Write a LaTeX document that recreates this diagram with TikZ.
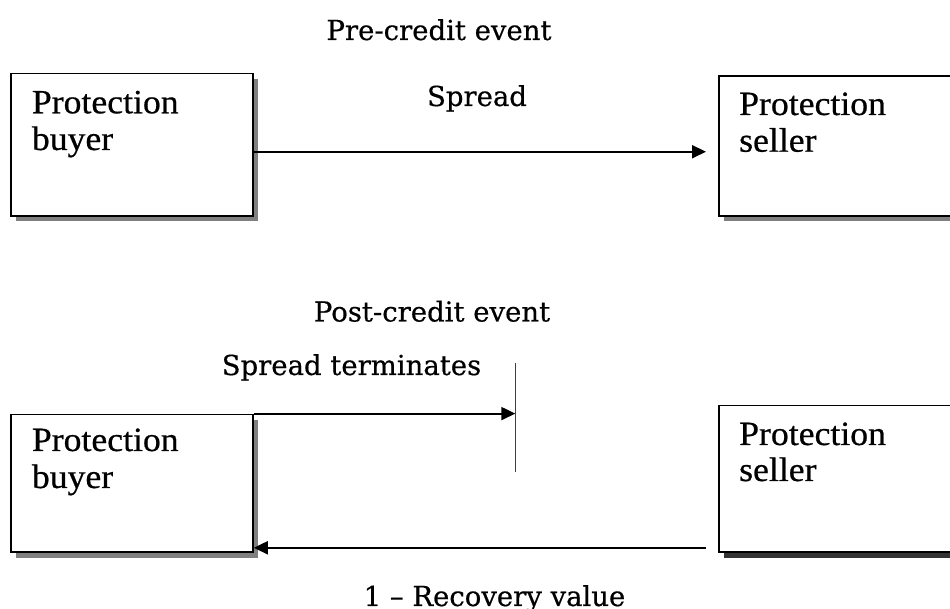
\documentclass[tikz,border=0pt]{standalone}
\usepackage{fontspec}
\setmainfont{Liberation Serif}[FakeBold=0.6, FakeStretch=1.05]
\newfontfamily\labelfont{DejaVu Serif}[FakeBold=0.5]
\usetikzlibrary{arrows.meta,calc,shadows}
\begin{document}
\begin{tikzpicture}[x=1pt,y=1pt,
  box/.style={draw=black, line width=1.8pt, fill=white, inner sep=0pt, anchor=north west,
    drop shadow={shadow xshift=5.5pt, shadow yshift=-5.5pt, fill=black!50, opacity=1}},
  darkbox/.style={box, drop shadow={shadow xshift=5.5pt, shadow yshift=-5.5pt, fill=black!80, opacity=1}},
  boxtext/.style={anchor=base west, inner sep=0pt, font=\fontsize{34}{38}\selectfont},
  lbl/.style={anchor=base, inner sep=0pt, font=\labelfont\fontsize{27.5}{31}\selectfont},
  conn/.style={line width=2pt, -{Triangle[length=14pt,width=13pt]}}]
\useasboundingbox (0,0) rectangle (950,609);
\clip (0,0) rectangle (950,609);
% boxes
\node[box, minimum width=242pt, minimum height=142.3pt] (b1) at (10,536.3) {};
\node[box, minimum width=260pt, minimum height=140pt] (s1) at (718,534) {};
\node[box, minimum width=242pt, minimum height=137.9pt] (b2) at (10,195.4) {};
\node[darkbox, minimum width=260pt, minimum height=146.8pt] (s2) at (718,204.3) {};
% box texts
\node[boxtext] (b1a) at (31.7,495.7) {Protection};
\node[boxtext] (b1b) at (31.7,459) {buyer};
\node[boxtext] (s1a) at (739,494) {Protection};
\node[boxtext] (s1b) at (739,457.3) {seller};
\node[boxtext] (b2a) at (31.7,158) {Protection};
\node[boxtext] (b2b) at (31.7,121) {buyer};
\node[boxtext] (s2a) at (739,164) {Protection};
\node[boxtext] (s2b) at (739,128) {seller};
% labels
\node[lbl] (pre) at (439,569) {Pre-credit event};
\node[lbl] (spr) at (477,503) {Spread};
\node[lbl] (post) at (432,287.5) {Post-credit event};
\node[lbl] (term) at (351.5,234) {Spread terminates};
\node[lbl] (rec) at (494.5,3) {1 – Recovery value};
% connectors
\draw[conn, shorten >=12pt] ([yshift=-7pt]b1.east) -- ([yshift=-7pt]b1.east -| s1.west);
\coordinate (vt) at (515.3,246.3);
\coordinate (vb) at (515.3,137.3);
\draw[line width=1.2pt, black!75] (vt) -- (vb);
\draw[conn] (b2.north east) -- (b2.north east -| vt);
\coordinate (a3) at ([yshift=5.5pt]b2.south east);
\draw[conn, shorten <=12pt] (a3 -| s2.west) -- (a3);
\end{tikzpicture}
\end{document}
